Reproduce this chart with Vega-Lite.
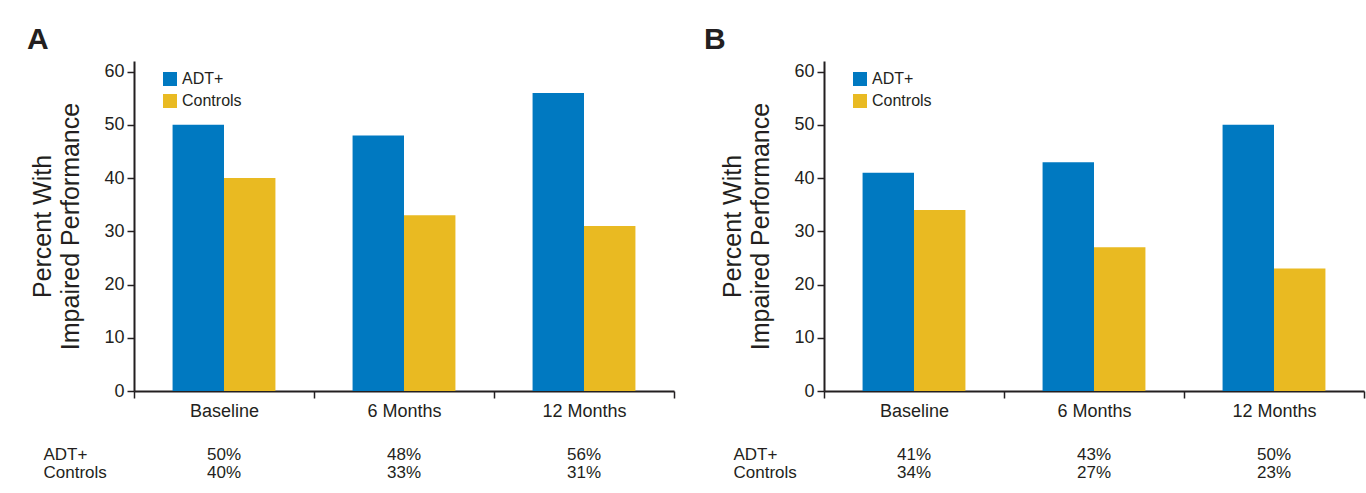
{
  "$schema": "https://vega.github.io/schema/vega-lite/v6.json",
  "background": "white",
  "padding": {"left": 27, "top": 25, "right": 2, "bottom": 2},
  "datasets": {
    "d": [
      {"panel": "A", "time": "Baseline", "group": "ADT+", "value": 50},
      {"panel": "A", "time": "Baseline", "group": "Controls", "value": 40},
      {"panel": "A", "time": "6 Months", "group": "ADT+", "value": 48},
      {"panel": "A", "time": "6 Months", "group": "Controls", "value": 33},
      {"panel": "A", "time": "12 Months", "group": "ADT+", "value": 56},
      {"panel": "A", "time": "12 Months", "group": "Controls", "value": 31},
      {"panel": "B", "time": "Baseline", "group": "ADT+", "value": 41},
      {"panel": "B", "time": "Baseline", "group": "Controls", "value": 34},
      {"panel": "B", "time": "6 Months", "group": "ADT+", "value": 43},
      {"panel": "B", "time": "6 Months", "group": "Controls", "value": 27},
      {"panel": "B", "time": "12 Months", "group": "ADT+", "value": 50},
      {"panel": "B", "time": "12 Months", "group": "Controls", "value": 23}
    ]
  },
  "config": {
    "font": "Liberation Sans",
    "view": {"stroke": null},
    "axisY": {
      "tickSize": 7, "tickWidth": 1.5, "tickColor": "#231F20",
      "domainWidth": 2, "domainColor": "#231F20",
      "labelFontSize": 18, "labelColor": "#231F20", "labelPadding": 3,
      "grid": false,
      "titleFontSize": 25, "titleFontWeight": "normal", "titleColor": "#231F20",
      "titlePadding": 20, "titleLineHeight": 28
    },
    "axisX": {
      "labelAngle": 0, "tickBand": "extent", "tickExtra": false,
      "tickSize": 7, "tickWidth": 1.5, "tickColor": "#231F20",
      "domainWidth": 2, "domainColor": "#231F20",
      "labelFontSize": 18, "labelColor": "#231F20", "labelPadding": 4,
      "grid": false
    },
    "legend": {
      "orient": "none", "legendX": 28, "legendY": 10, "padding": 0,
      "symbolType": "square", "symbolSize": 196, "symbolStrokeWidth": 0,
      "labelFontSize": 16, "labelColor": "#231F20", "labelOffset": 4, "rowPadding": 6
    }
  },
  "spacing": 29,
  "resolve": {"scale": {"color": "independent"}, "legend": {"color": "independent"}},
  "hconcat": [
    {
      "bounds": "flush",
      "spacing": 54.5,
      "vconcat": [
        {
          "width": 540, "height": 330,
          "title": {"text": "A", "anchor": "start", "frame": "group", "dx": -107, "offset": 6, "fontSize": 30, "fontWeight": "bold", "color": "#231F20"},
          "data": {"name": "d"},
          "transform": [{"filter": "datum.panel === 'A'"}],
          "mark": {"type": "bar"},
          "encoding": {
            "x": {"field": "time", "type": "nominal", "sort": ["Baseline", "6 Months", "12 Months"], "scale": {"paddingInner": 0, "paddingOuter": 0}, "axis": {"title": null}},
            "xOffset": {"field": "group", "type": "nominal", "sort": ["ADT+", "Controls"], "scale": {"paddingInner": 0, "paddingOuter": 0.75}},
            "y": {"field": "value", "type": "quantitative", "scale": {"domain": [0, 62], "nice": false}, "axis": {"title": ["Percent With", "Impaired Performance"], "values": [0, 10, 20, 30, 40, 50, 60]}},
            "color": {"field": "group", "type": "nominal", "scale": {"domain": ["ADT+", "Controls"], "range": ["#0079C1", "#E9BA22"]}, "legend": {"title": null}}
          }
        },
        {
          "width": 540, "height": 36,
          "data": {"name": "d"},
          "transform": [{"filter": "datum.panel === 'A'"}],
          "mark": {"type": "text", "fontSize": 17, "color": "#231F20", "text": {"expr": "datum.value + '%'"}},
          "encoding": {
            "x": {"field": "time", "type": "nominal", "sort": ["Baseline", "6 Months", "12 Months"], "scale": {"paddingInner": 0, "paddingOuter": 0}, "axis": null},
            "y": {"field": "group", "type": "nominal", "sort": ["ADT+", "Controls"], "scale": {"paddingInner": 0, "paddingOuter": 0}, "axis": {"title": null, "domain": false, "ticks": false, "tickSize": 0, "labelPadding": 91, "labelAlign": "left", "labelFontSize": 17, "labelColor": "#231F20"}}
          }
        }
      ]
    },
    {
      "bounds": "flush",
      "spacing": 54.5,
      "vconcat": [
        {
          "width": 540, "height": 330,
          "title": {"text": "B", "anchor": "start", "frame": "group", "dx": -120, "offset": 6, "fontSize": 30, "fontWeight": "bold", "color": "#231F20"},
          "data": {"name": "d"},
          "transform": [{"filter": "datum.panel === 'B'"}],
          "mark": {"type": "bar"},
          "encoding": {
            "x": {"field": "time", "type": "nominal", "sort": ["Baseline", "6 Months", "12 Months"], "scale": {"paddingInner": 0, "paddingOuter": 0}, "axis": {"title": null}},
            "xOffset": {"field": "group", "type": "nominal", "sort": ["ADT+", "Controls"], "scale": {"paddingInner": 0, "paddingOuter": 0.75}},
            "y": {"field": "value", "type": "quantitative", "scale": {"domain": [0, 62], "nice": false}, "axis": {"title": ["Percent With", "Impaired Performance"], "values": [0, 10, 20, 30, 40, 50, 60]}},
            "color": {"field": "group", "type": "nominal", "scale": {"domain": ["ADT+", "Controls"], "range": ["#0079C1", "#E9BA22"]}, "legend": {"title": null}}
          }
        },
        {
          "width": 540, "height": 36,
          "data": {"name": "d"},
          "transform": [{"filter": "datum.panel === 'B'"}],
          "mark": {"type": "text", "fontSize": 17, "color": "#231F20", "text": {"expr": "datum.value + '%'"}},
          "encoding": {
            "x": {"field": "time", "type": "nominal", "sort": ["Baseline", "6 Months", "12 Months"], "scale": {"paddingInner": 0, "paddingOuter": 0}, "axis": null},
            "y": {"field": "group", "type": "nominal", "sort": ["ADT+", "Controls"], "scale": {"paddingInner": 0, "paddingOuter": 0}, "axis": {"title": null, "domain": false, "ticks": false, "tickSize": 0, "labelPadding": 91, "labelAlign": "left", "labelFontSize": 17, "labelColor": "#231F20"}}
          }
        }
      ]
    }
  ]
}
